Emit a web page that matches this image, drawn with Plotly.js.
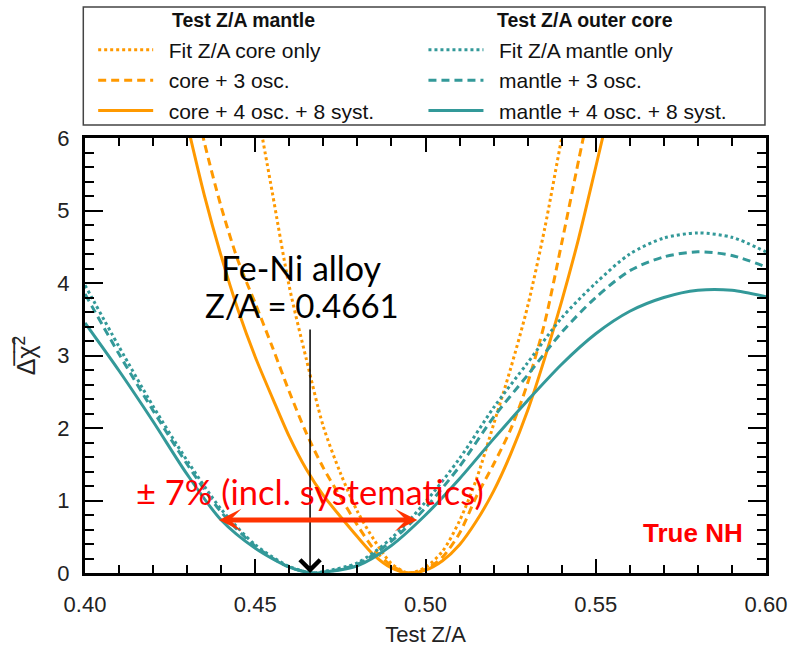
<!DOCTYPE html>
<html>
<head>
<meta charset="utf-8">
<script src="https://cdn.plot.ly/plotly-3.0.1.min.js"></script>
<style>html,body{margin:0;padding:0;background:#fff;}#chart{width:794px;height:649px;}</style>
</head>
<body>
<div id="chart"></div>
<script>
// ---- data ----
const tealX = [0.40,0.41,0.42,0.43,0.44,0.45,0.46,0.467,0.47,0.48,0.49,0.50,0.51,0.52,0.53,0.54,0.55,0.56,0.57,0.58,0.59,0.60];
const mantleOnly   = [3.97,3.12,2.30,1.55,0.88,0.39,0.09,0.00,0.02,0.14,0.48,0.98,1.58,2.28,2.90,3.52,4.00,4.40,4.62,4.69,4.63,4.43];
const mantle3osc   = [3.85,3.02,2.24,1.50,0.84,0.37,0.08,0.00,0.01,0.12,0.44,0.90,1.47,2.15,2.73,3.32,3.80,4.17,4.36,4.43,4.38,4.22];
const mantle4osc8s = [3.45,2.79,2.09,1.36,0.73,0.34,0.08,0.00,0.01,0.10,0.38,0.80,1.30,1.85,2.38,2.88,3.30,3.61,3.80,3.90,3.90,3.81];

const coreOnlyX = [0.450,0.455,0.46,0.465,0.47,0.475,0.48,0.485,0.49,0.495,0.50,0.505,0.51,0.515,0.52,0.525,0.53,0.535,0.54,0.543];
const coreOnly  = [6.55,5.25,3.95,2.95,2.02,1.38,0.85,0.45,0.13,0.00,0.08,0.30,0.72,1.30,2.05,2.82,3.68,4.75,6.00,6.70];

const core3oscX = [0.432,0.435,0.44,0.445,0.45,0.455,0.46,0.465,0.47,0.475,0.48,0.485,0.49,0.495,0.50,0.505,0.51,0.515,0.52,0.525,0.53,0.535,0.54,0.545,0.549];
const core3osc  = [6.60,5.95,5.05,4.30,3.72,3.12,2.50,1.93,1.45,1.05,0.66,0.32,0.10,0.00,0.05,0.22,0.55,1.06,1.50,1.98,2.62,3.45,4.55,5.70,6.60];

const core4oscX = [0.429,0.435,0.44,0.445,0.45,0.455,0.46,0.465,0.47,0.475,0.48,0.485,0.49,0.495,0.50,0.505,0.51,0.515,0.52,0.525,0.53,0.535,0.54,0.545,0.55,0.554];
const core4osc8s= [6.40,5.22,4.37,3.62,2.98,2.42,1.88,1.43,1.07,0.78,0.50,0.24,0.07,0.00,0.04,0.17,0.39,0.72,1.13,1.64,2.24,2.96,3.75,4.62,5.60,6.40];

const names = {
  coreOnly: 'Fit Z/A core only', core3: 'core + 3 osc.', core4: 'core + 4 osc. + 8 syst.',
  mantleOnly: 'Fit Z/A mantle only', mantle3: 'mantle + 3 osc.', mantle4: 'mantle + 4 osc. + 8 syst.'
};
const headers = ['Test Z/A mantle', 'Test Z/A outer core'];
const xTickVals = [0.40,0.45,0.50,0.55,0.60];
const feNiZA = 0.4661;

// ---- styles ----
const ORANGE = '#FF9900', TEAL = '#339999';
const LW = 3;
const fontArial = 'Liberation Sans, Arial, Helvetica, sans-serif';
const fontCal = 'Lato, Carlito, Open Sans, sans-serif';
const SP = '\u2002';

function tr(x, y, name, color, dash, legend, grp) {
  return {x, y, name: SP + name, type: 'scatter', mode: 'lines',
    line: {color, width: LW, dash, shape: 'spline', smoothing: 0.8},
    legend, legendgroup: grp, hoverinfo: 'skip'};
}

const traces = [
  tr(coreOnlyX, coreOnly, names.coreOnly, ORANGE, 'dot', 'legend', 'a'),
  tr(core3oscX, core3osc, names.core3, ORANGE, '8px,5px', 'legend', 'b'),
  tr(core4oscX, core4osc8s, names.core4, ORANGE, 'solid', 'legend', 'c'),
  tr(tealX, mantleOnly, names.mantleOnly, TEAL, 'dot', 'legend2', 'd'),
  tr(tealX, mantle3osc, names.mantle3, TEAL, '8px,5px', 'legend2', 'e'),
  tr(tealX, mantle4osc8s, names.mantle4, TEAL, 'solid', 'legend2', 'f')
];

const legFont = {family: fontArial, size: 21, color: '#111'};
const hdrFont = {family: fontArial, size: 19.5, color: '#111'};
const layout = {
  width: 794, height: 649,
  margin: {l: 85, r: 28, t: 138, b: 76},
  paper_bgcolor: '#fff', plot_bgcolor: '#fff',
  showlegend: true,
  legend: {x: 0.012, xanchor: 'left', y: 1.249, yanchor: 'top', font: legFont,
           bgcolor: 'rgba(0,0,0,0)', itemwidth: 55, tracegroupgap: 4, traceorder: 'normal'},
  legend2: {x: 0.497, xanchor: 'left', y: 1.249, yanchor: 'top', font: legFont,
           bgcolor: 'rgba(0,0,0,0)', itemwidth: 55, tracegroupgap: 4, traceorder: 'normal'},
  xaxis: {
    range: [0.40, 0.60], tickvals: xTickVals, tickformat: '.2f',
    ticks: 'inside', ticklen: 14, tickwidth: 2, tickcolor: '#000',
    minor: {dtick: 0.01, tick0: 0.40, ticks: 'inside', ticklen: 8, tickwidth: 2, tickcolor: '#000'},
    showline: true, linewidth: 3, linecolor: '#000', mirror: 'ticks',
    showgrid: false, zeroline: false,
    tickfont: {family: fontArial, size: 22, color: '#222'},
    ticklabelstandoff: 10,
    title: {text: 'Test Z/A', font: {family: fontArial, size: 22, color: '#222'}, standoff: 11}
  },
  yaxis: {
    range: [0, 6], dtick: 1,
    ticks: 'inside', ticklen: 18, tickwidth: 2, tickcolor: '#000',
    minor: {dtick: 0.2, ticks: 'inside', ticklen: 9, tickwidth: 2, tickcolor: '#000'},
    showline: true, linewidth: 3, linecolor: '#000', mirror: 'ticks',
    showgrid: false, zeroline: false,
    tickfont: {family: fontArial, size: 22, color: '#222'},
    ticklabelstandoff: 8,
    title: {text: 'Δ\u0305χ\u0305<sup>2</sup>', font: {family: fontArial, size: 25, color: '#222'}, standoff: 15}
  },
  shapes: [
    {type: 'rect', xref: 'paper', yref: 'paper', x0: -0.0025, x1: 0.9985, y0: 1.030, y1: 1.301,
     line: {color: '#444', width: 1.5}, fillcolor: 'rgba(0,0,0,0)'}
  ],
  annotations: [
    {xref: 'paper', yref: 'paper', x: 0.1252, y: 1.271, xanchor: 'left', yanchor: 'middle',
     text: '<b>' + headers[0] + '</b>', showarrow: false, font: hdrFont},
    {xref: 'paper', yref: 'paper', x: 0.6024, y: 1.271, xanchor: 'left', yanchor: 'middle',
     text: '<b>' + headers[1] + '</b>', showarrow: false, font: hdrFont},
    {x: 0.4636, y: 4.21, xref: 'x', yref: 'y', text: 'Fe-Ni alloy',
     showarrow: false, font: {family: fontCal, size: 34, color: '#000'}, xanchor: 'center', yanchor: 'middle'},
    {x: 0.4636, y: 3.70, xref: 'x', yref: 'y', text: 'Z/A = ' + feNiZA.toFixed(4),
     showarrow: false, font: {family: fontCal, size: 33, color: '#000'}, xanchor: 'center', yanchor: 'middle'},
    {x: feNiZA, y: 0, ax: feNiZA, ay: 3.38, xref: 'x', yref: 'y', axref: 'x', ayref: 'y',
     text: '', showarrow: true, arrowhead: 4, arrowsize: 2.6, arrowwidth: 1.5, arrowcolor: '#000'},
    {x: 0.466, y: 1.13, xref: 'x', yref: 'y', text: '± 7% (incl. systematics)', showarrow: false,
     font: {family: fontCal, size: 34.5, color: '#ff0000'}},
    {x: 0.4976, y: 0.73, ax: 0.4389, ay: 0.73, xref: 'x', yref: 'y', axref: 'x', ayref: 'y',
     text: '', showarrow: true, arrowhead: 3, arrowside: 'end+start', arrowsize: 0.75, arrowwidth: 5, arrowcolor: '#ff3300'},
    {xref: 'paper', yref: 'y', x: 0.969, y: 0.555, xanchor: 'right', yanchor: 'middle',
     text: '<b>True NH</b>', showarrow: false, font: {family: fontArial, size: 26, color: '#ff0000'}}
  ]
};

Plotly.newPlot('chart', traces, layout, {displayModeBar: false, staticPlot: true});
</script>
</body>
</html>
